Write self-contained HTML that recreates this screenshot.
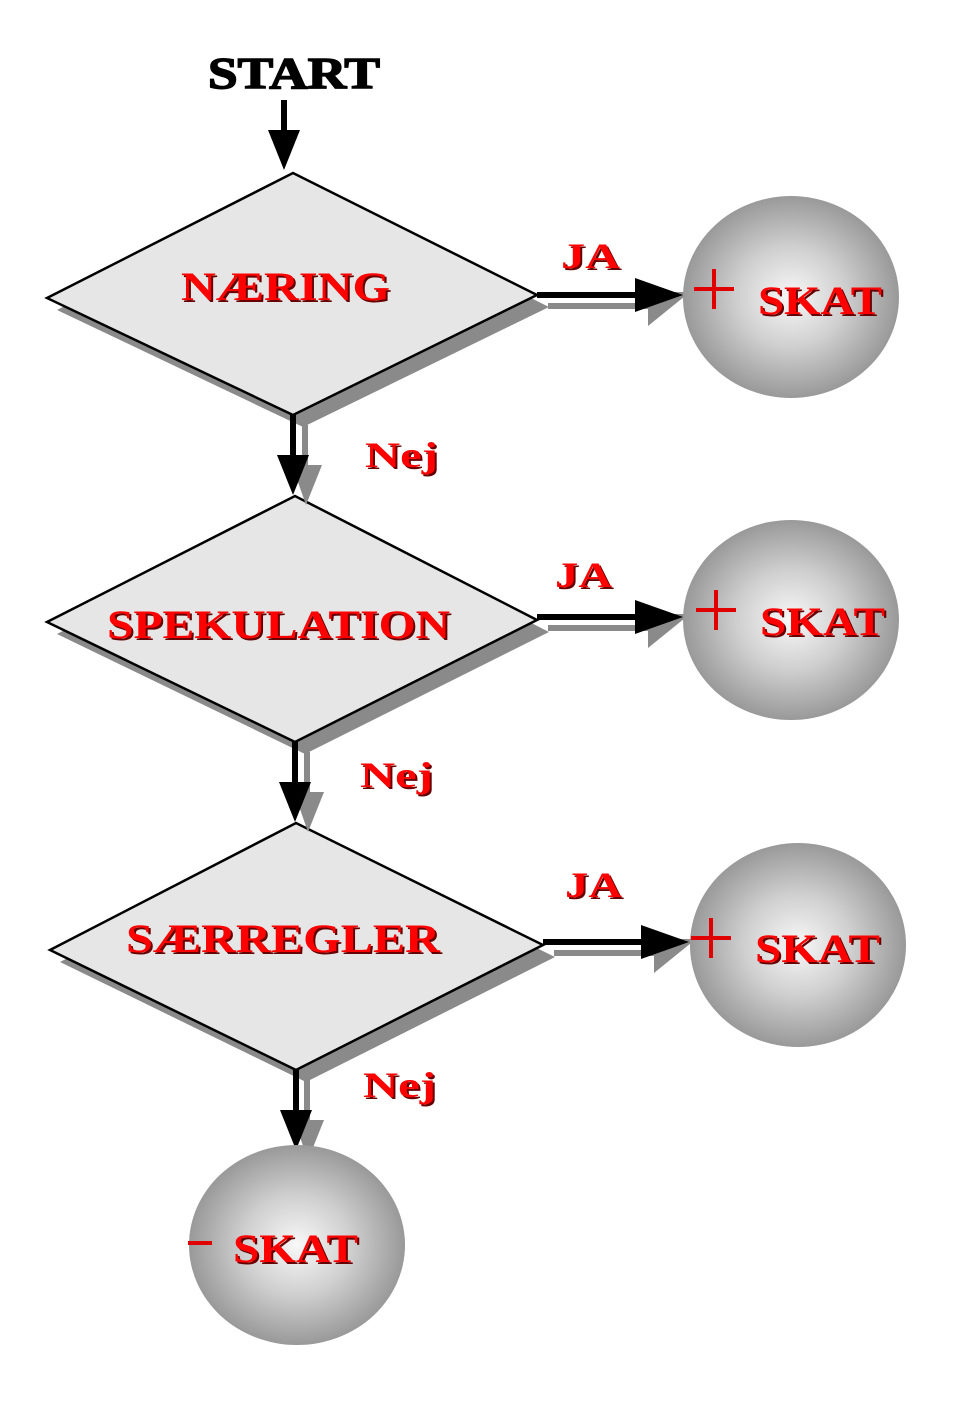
<!DOCTYPE html>
<html><head><meta charset="utf-8"><style>
html,body{margin:0;padding:0;background:#fff}
svg{display:block}
.t{font-family:"Liberation Serif",serif;font-weight:bold;fill:#f00}
.s{font-family:"Liberation Serif",serif;font-weight:bold;fill:#600}
</style></head><body>
<svg width="960" height="1401" viewBox="0 0 960 1401" xmlns="http://www.w3.org/2000/svg">
<defs>
<radialGradient id="g" cx="50%" cy="50%" r="50%">
<stop offset="0" stop-color="#f8f8f8"/>
<stop offset="0.5" stop-color="#cfcfcf"/>
<stop offset="1" stop-color="#999"/>
</radialGradient>
</defs>

<text x="294" y="88" text-anchor="middle" font-family="Liberation Serif,serif" font-weight="bold" font-size="44" textLength="172" lengthAdjust="spacingAndGlyphs" fill="#000" stroke="#000" stroke-width="1.5">START</text>
<line x1="284" y1="100" x2="284" y2="140" stroke="#000" stroke-width="6"/>
<polygon points="268,130 300,130 284,170" fill="#000"/>

<polygon points="57,310 303,185 549,307 303,427" fill="#8a8a8a"/>
<polygon points="57,634 305,508 549,632 305,754" fill="#8a8a8a"/>
<polygon points="60,962 306,835 555,957 306,1082" fill="#8a8a8a"/>

<polygon points="47,298 293,173 537,295 293,415" fill="#e6e6e6" stroke="#000" stroke-width="2.5"/>
<polygon points="47,622 295,496 537,620 295,742" fill="#e6e6e6" stroke="#000" stroke-width="2.5"/>
<polygon points="50,950 296,823 543,945 296,1070" fill="#e6e6e6" stroke="#000" stroke-width="2.5"/>

<g fill="#8a8a8a">
<rect x="302" y="425" width="6" height="50"/><polygon points="292,465 322,465 306,505"/>
<rect x="304" y="752" width="6" height="50"/><polygon points="294,792 324,792 308,832"/>
<rect x="304" y="1080" width="6" height="50"/><polygon points="294,1120 324,1120 308,1160"/>
</g>
<g fill="#000">
<rect x="290" y="415" width="6" height="50"/><polygon points="277,455 309,455 293,495"/>
<rect x="292" y="742" width="6" height="50"/><polygon points="279,782 311,782 295,822"/>
<rect x="293" y="1070" width="6" height="50"/><polygon points="280,1110 312,1110 296,1150"/>
</g>

<g fill="#8a8a8a">
<rect x="548" y="303" width="100" height="6"/><polygon points="648,292 690,292 648,326"/>
<rect x="548" y="625" width="100" height="6"/><polygon points="648,614 690,614 648,648"/>
<rect x="554" y="950" width="100" height="6"/><polygon points="654,939 696,939 654,973"/>
</g>
<g fill="#000">
<rect x="537" y="292" width="100" height="6"/><polygon points="635,278 683,295 635,312"/>
<rect x="537" y="614" width="100" height="6"/><polygon points="635,600 683,617 635,634"/>
<rect x="543" y="939" width="100" height="6"/><polygon points="641,925 689,942 641,959"/>
</g>

<ellipse cx="791" cy="297" rx="108" ry="101" fill="url(#g)"/>
<ellipse cx="791" cy="620" rx="108" ry="100" fill="url(#g)"/>
<ellipse cx="798" cy="945" rx="108" ry="102" fill="url(#g)"/>
<ellipse cx="297" cy="1245" rx="108" ry="100" fill="url(#g)"/>

<g font-size="40">
<text class="s" x="183" y="302" textLength="209" lengthAdjust="spacingAndGlyphs">NÆRING</text>
<text class="t" x="181" y="300" textLength="209" lengthAdjust="spacingAndGlyphs">NÆRING</text>
<text class="s" x="109" y="640" textLength="343" lengthAdjust="spacingAndGlyphs">SPEKULATION</text>
<text class="t" x="107" y="638" textLength="343" lengthAdjust="spacingAndGlyphs">SPEKULATION</text>
<text class="s" x="128" y="954" textLength="314" lengthAdjust="spacingAndGlyphs">SÆRREGLER</text>
<text class="t" x="126" y="952" textLength="314" lengthAdjust="spacingAndGlyphs">SÆRREGLER</text>
</g>
<g font-size="36">
<text class="s" x="563" y="270" textLength="59" lengthAdjust="spacingAndGlyphs">JA</text>
<text class="t" x="561" y="268" textLength="59" lengthAdjust="spacingAndGlyphs">JA</text>
<text class="s" x="557" y="589" textLength="57" lengthAdjust="spacingAndGlyphs">JA</text>
<text class="t" x="555" y="587" textLength="57" lengthAdjust="spacingAndGlyphs">JA</text>
<text class="s" x="567" y="899" textLength="57" lengthAdjust="spacingAndGlyphs">JA</text>
<text class="t" x="565" y="897" textLength="57" lengthAdjust="spacingAndGlyphs">JA</text>
<text class="s" x="367" y="469" textLength="73" lengthAdjust="spacingAndGlyphs">Nej</text>
<text class="t" x="365" y="467" textLength="73" lengthAdjust="spacingAndGlyphs">Nej</text>
<text class="s" x="362" y="789" textLength="73" lengthAdjust="spacingAndGlyphs">Nej</text>
<text class="t" x="360" y="787" textLength="73" lengthAdjust="spacingAndGlyphs">Nej</text>
<text class="s" x="365" y="1099" textLength="73" lengthAdjust="spacingAndGlyphs">Nej</text>
<text class="t" x="363" y="1097" textLength="73" lengthAdjust="spacingAndGlyphs">Nej</text>
</g>
<g font-size="40">
<text class="s" x="760" y="316" textLength="124" lengthAdjust="spacingAndGlyphs">SKAT</text>
<text class="t" x="758" y="314" textLength="124" lengthAdjust="spacingAndGlyphs">SKAT</text>
<text class="s" x="762" y="637" textLength="125" lengthAdjust="spacingAndGlyphs">SKAT</text>
<text class="t" x="760" y="635" textLength="125" lengthAdjust="spacingAndGlyphs">SKAT</text>
<text class="s" x="757" y="964" textLength="125" lengthAdjust="spacingAndGlyphs">SKAT</text>
<text class="t" x="755" y="962" textLength="125" lengthAdjust="spacingAndGlyphs">SKAT</text>
<text class="s" x="235" y="1264" textLength="125" lengthAdjust="spacingAndGlyphs">SKAT</text>
<text class="t" x="233" y="1262" textLength="125" lengthAdjust="spacingAndGlyphs">SKAT</text>
</g>
<g fill="#e00000">
<rect x="694" y="287" width="40" height="4"/><rect x="712" y="269" width="4" height="40"/>
<rect x="696" y="608" width="40" height="4"/><rect x="714" y="590" width="4" height="40"/>
<rect x="691" y="936" width="40" height="4"/><rect x="709" y="918" width="4" height="40"/>
<rect x="188" y="1241" width="24" height="4"/>
</g>
</svg>
</body></html>
